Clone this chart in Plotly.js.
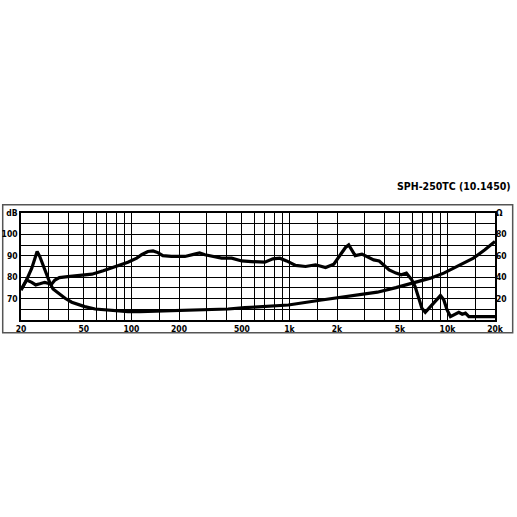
<!DOCTYPE html>
<html>
<head>
<meta charset="utf-8">
<script src="https://cdn.plot.ly/plotly-3.0.1.min.js"></script>
<style>html,body{margin:0;padding:0;background:#fff;}#chart{width:517px;height:517px;}</style>
</head>
<body>
<div id="chart"></div>
<script>
// Frequency response (dB SPL)
var splFreq = [20, 21.7, 23.4, 24.8, 26.3, 28.3, 29.6, 31.2, 32.8, 35, 39.5, 48.4, 56.2, 66.3, 78.9, 95, 108, 116, 127, 137, 147, 158, 179, 218, 251, 270, 292, 329, 372, 431, 499, 575, 652, 698, 786, 869, 960, 1094, 1265, 1463, 1693, 1909, 2100, 2264, 2372, 2492, 2606, 2876, 3095, 3414, 3700, 3950, 4278, 4723, 5095, 5500, 5945, 6245, 6560, 6890, 7240, 7800, 8600, 9030, 9480, 9950, 10450, 11230, 11800, 12400, 13000, 13670, 15060, 20000];
var splDb = [74, 78.7, 77.6, 76.4, 76.9, 77.6, 77.2, 76.7, 78.7, 79.8, 80.3, 80.8, 81.4, 83, 85, 87, 88.9, 90.5, 92, 92.3, 91.5, 90.1, 89.7, 89.7, 90.8, 91.3, 90.5, 89.7, 88.9, 88.9, 87.6, 87.3, 87.3, 87, 88.6, 88.9, 87.6, 85.5, 85, 85.8, 84.5, 86.1, 90.5, 93.9, 95.1, 92.8, 90.1, 90.8, 89.7, 88.1, 87.6, 85.8, 83.4, 81.9, 81.1, 81.9, 78.8, 75.6, 70.2, 65.5, 63.6, 66.2, 69.4, 71.4, 69.4, 64.7, 61.6, 62.7, 63.6, 62.7, 63.2, 61.6, 61.6, 61.6];

// Impedance (Ohm)
var impFreq = [20, 21.7, 23.4, 24.5, 25.3, 26.3, 27.6, 28.9, 30.5, 31.9, 34.4, 38, 41.9, 46.2, 50.6, 58.9, 67.8, 78.9, 95, 113, 171, 278, 409, 522, 651, 984, 1598, 2616, 3600, 4723, 6095, 7800, 9480, 11560, 14600, 17260, 20000];
var impOhm = [28, 37.5, 48.4, 57.8, 64, 59.3, 51.5, 42.2, 34.4, 29, 25, 20.3, 16.6, 14.1, 12.5, 10.3, 9.4, 8.4, 7.8, 7.8, 8.4, 9.4, 10.3, 11.5, 12.5, 14, 18.7, 23.4, 26, 30.3, 34.4, 39.1, 43.8, 50, 57.8, 65.6, 73.4];

// Axis ticks
var xMajor = [20, 50, 100, 200, 500, 1000, 2000, 5000, 10000, 20000];
var xMajorText = ['20', '50', '100', '200', '500', '1k', '2k', '5k', '10k', '20k'];
var xMinor = [30, 40, 60, 70, 80, 90, 150, 300, 400, 600, 700, 800, 900, 1500, 3000, 4000, 6000, 7000, 8000, 9000, 15000];
var dbGrid = [60, 65, 70, 75, 80, 85, 90, 95, 100, 105, 110];
var dbText = ['', '', '70', '', '80', '', '90', '', '100', '', 'dB'];
var ohmTicks = [20, 40, 60, 80, 100];
var ohmLabels = ['20', '40', '60', '80', 'Ω'];
var titleText = 'SPH-250TC (10.1450)';

var fontFam = '"DejaVu Sans Condensed", "Liberation Sans Narrow", sans-serif';
var tf = {family: fontFam, size: 8.5, color: '#000', weight: 'bold'};
var xRange = [Math.log10(20), Math.log10(20000)];

var traces = [
  {x: splFreq, y: splDb, type: 'scatter', mode: 'lines', line: {color: '#000', width: 3.2}, xaxis: 'x', yaxis: 'y', hoverinfo: 'skip'},
  {x: impFreq, y: impOhm, type: 'scatter', mode: 'lines', line: {color: '#000', width: 3.2}, xaxis: 'x2', yaxis: 'y2', hoverinfo: 'skip'}
];

var layout = {
  width: 517, height: 517,
  margin: {l: 21, r: 22, t: 213, b: 197, pad: 0},
  paper_bgcolor: '#fff', plot_bgcolor: '#fff',
  showlegend: false,
  font: {family: fontFam, color: '#000', size: 8, weight: 'bold'},
  xaxis: {
    type: 'log', range: xRange,
    tickmode: 'array', tickvals: xMajor, ticktext: xMajorText,
    showgrid: true, gridcolor: '#000', gridwidth: 1.2,
    showline: true, linecolor: '#000', linewidth: 1.5, mirror: true,
    ticks: '', zeroline: false, tickfont: tf
  },
  xaxis2: {
    type: 'log', range: xRange, overlaying: 'x', anchor: 'y2',
    tickmode: 'array', tickvals: xMinor, showticklabels: false,
    showgrid: true, gridcolor: '#000', gridwidth: 1.2,
    showline: false, ticks: '', zeroline: false
  },
  yaxis: {
    range: [60, 110], tickmode: 'array', tickvals: dbGrid, ticktext: dbText,
    showgrid: true, gridcolor: '#000', gridwidth: 1.2,
    showline: true, linecolor: '#000', linewidth: 1.5, mirror: true,
    ticks: '', zeroline: false, tickfont: tf
  },
  yaxis2: {
    range: [0, 100], overlaying: 'y', side: 'right', anchor: 'x2',
    tickmode: 'array', tickvals: ohmTicks, ticktext: ohmLabels,
    showgrid: false, zeroline: false, showline: false, ticks: '',
    tickfont: tf
  },
  shapes: [
    {type: 'rect', xref: 'paper', yref: 'paper', x0: -0.0386, x1: 1.0373, y0: -0.119, y1: 1.078,
     line: {color: '#555', width: 1.5}, fillcolor: 'rgba(0,0,0,0)', layer: 'below'}
  ],
  annotations: [
    {text: titleText, xref: 'paper', yref: 'paper', x: 1.0373, y: 1.256, xanchor: 'right', yanchor: 'middle',
     showarrow: false, font: {family: fontFam, size: 10.5, color: '#000', weight: 'bold'}}
  ]
};

Plotly.newPlot('chart', traces, layout, {displayModeBar: false});
</script>
</body>
</html>
